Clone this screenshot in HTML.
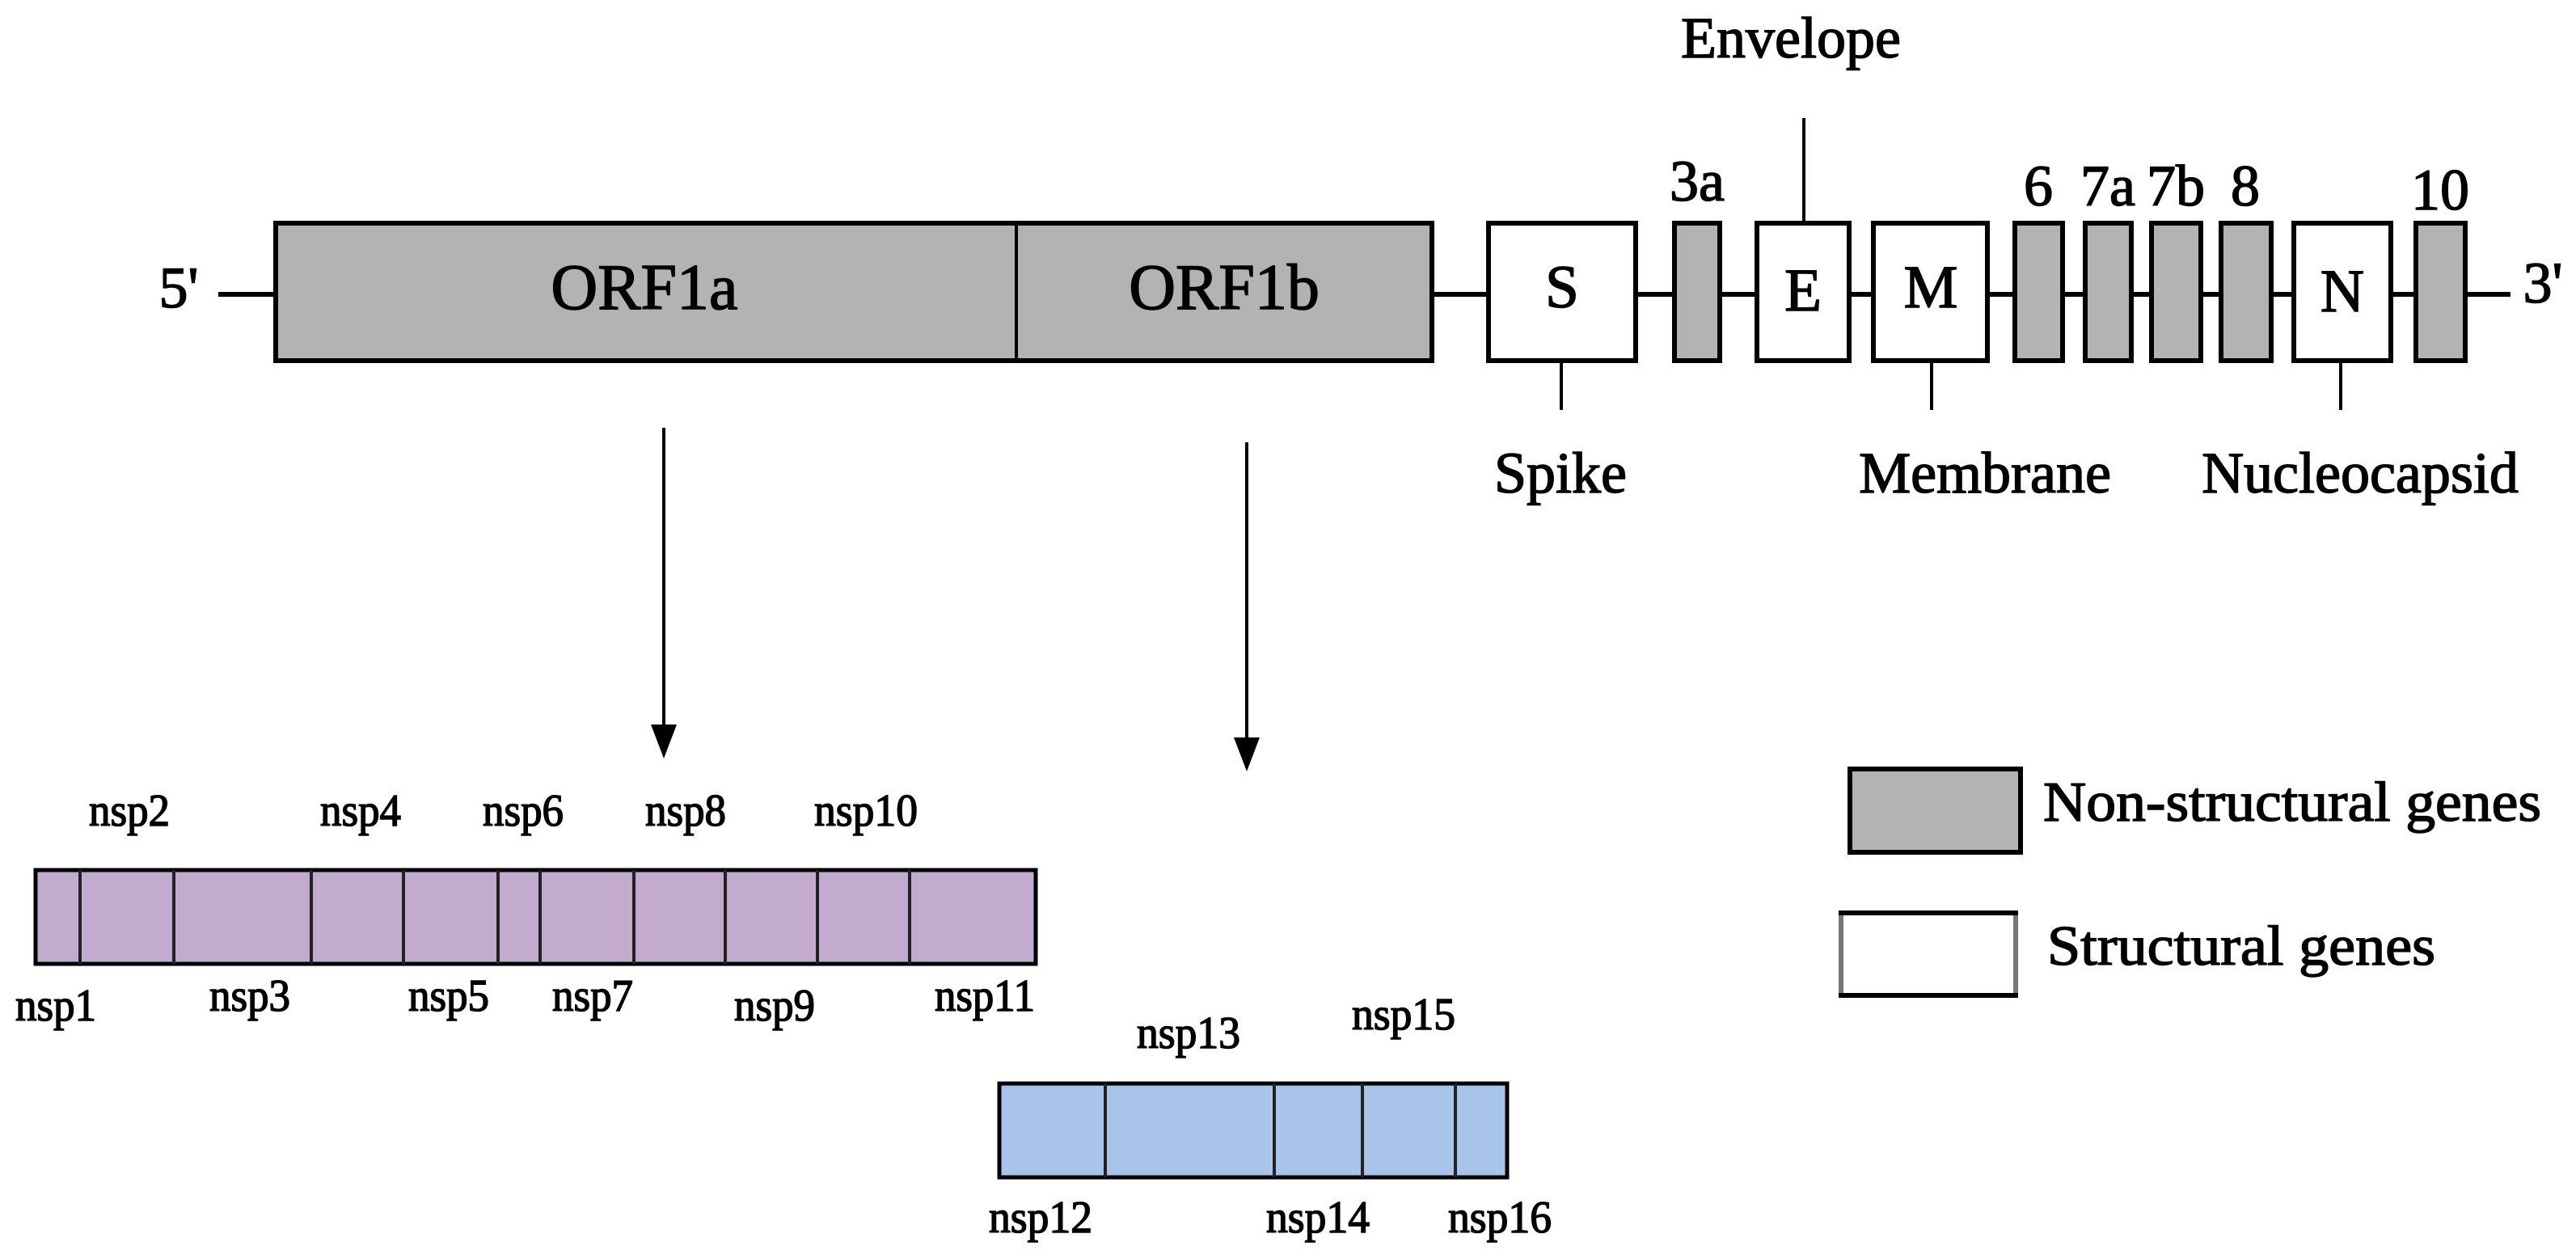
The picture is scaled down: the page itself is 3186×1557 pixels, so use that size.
<!DOCTYPE html>
<html><head><meta charset="utf-8"><style>
html,body{margin:0;padding:0;background:#fff;}
svg{display:block;}
text{font-family:"Liberation Serif",serif;fill:#000;stroke:#000;stroke-width:1.5;}
</style></head><body>
<svg width="3186" height="1557" viewBox="0 0 3186 1557" xmlns="http://www.w3.org/2000/svg">
<rect width="3186" height="1557" fill="#fff"/>
<line x1="270" y1="364" x2="3105" y2="364" stroke="#000" stroke-width="6"/>
<text x="221" y="380" font-size="72" text-anchor="middle">5'</text>
<text x="3145" y="374" font-size="72" text-anchor="middle">3'</text>
<rect x="341" y="276" width="1430" height="170" fill="#b3b3b3" stroke="#000" stroke-width="6"/>
<line x1="1257" y1="276" x2="1257" y2="446" stroke="#000" stroke-width="4"/>
<text x="797" y="382" font-size="80" text-anchor="middle">ORF1a</text>
<text x="1514" y="382" font-size="80" text-anchor="middle">ORF1b</text>
<g stroke="#000" stroke-width="6">
<rect x="1841" y="276" width="182" height="170" fill="#fff"/>
<rect x="2071" y="276" width="56" height="170" fill="#b3b3b3"/>
<rect x="2173" y="276" width="114" height="170" fill="#fff"/>
<rect x="2317" y="276" width="141" height="170" fill="#fff"/>
<rect x="2492" y="276" width="59" height="170" fill="#b3b3b3"/>
<rect x="2579" y="276" width="57" height="170" fill="#b3b3b3"/>
<rect x="2661" y="276" width="61" height="170" fill="#b3b3b3"/>
<rect x="2747" y="276" width="62" height="170" fill="#b3b3b3"/>
<rect x="2837" y="276" width="120" height="170" fill="#fff"/>
<rect x="2988" y="276" width="61" height="170" fill="#b3b3b3"/>
</g>
<text x="1932" y="380" font-size="75" text-anchor="middle">S</text>
<text x="2230" y="384" font-size="75" text-anchor="middle">E</text>
<text x="2388" y="380" font-size="75" text-anchor="middle">M</text>
<text x="2897" y="385" font-size="75" text-anchor="middle">N</text>
<text x="2099" y="248" font-size="72" text-anchor="middle">3a</text>
<text x="2521" y="254" font-size="72" text-anchor="middle">6</text>
<text x="2607" y="254" font-size="72" text-anchor="middle">7a</text>
<text x="2691" y="254" font-size="72" text-anchor="middle">7b</text>
<text x="2777" y="254" font-size="72" text-anchor="middle">8</text>
<text x="3018" y="259" font-size="72" text-anchor="middle">10</text>
<g stroke="#000" stroke-width="4">
<line x1="2231" y1="146" x2="2231" y2="276"/>
<line x1="1931" y1="446" x2="1931" y2="507"/>
<line x1="2389" y1="446" x2="2389" y2="507"/>
<line x1="2895" y1="446" x2="2895" y2="507"/>
</g>
<text x="2215" y="71" font-size="72" text-anchor="middle">Envelope</text>
<text x="1930" y="609" font-size="72" text-anchor="middle">Spike</text>
<text x="2455" y="609" font-size="72" text-anchor="middle">Membrane</text>
<text x="2919" y="609" font-size="72" text-anchor="middle">Nucleocapsid</text>
<g stroke="#000" stroke-width="4">
<line x1="821" y1="529" x2="821" y2="900"/>
<line x1="1542" y1="547" x2="1542" y2="916"/>
</g>
<polygon points="805,896 837,896 821,938" fill="#000"/>
<polygon points="1526,912 1558,912 1542,954" fill="#000"/>
<rect x="44" y="1076" width="1237" height="116" fill="#c3abcf" stroke="#000" stroke-width="5"/>
<g stroke="#222" stroke-width="4">
<line x1="99" y1="1076" x2="99" y2="1192"/><line x1="215" y1="1076" x2="215" y2="1192"/>
<line x1="385" y1="1076" x2="385" y2="1192"/><line x1="499" y1="1076" x2="499" y2="1192"/>
<line x1="616" y1="1076" x2="616" y2="1192"/><line x1="668" y1="1076" x2="668" y2="1192"/>
<line x1="784" y1="1076" x2="784" y2="1192"/><line x1="897" y1="1076" x2="897" y2="1192"/>
<line x1="1011" y1="1076" x2="1011" y2="1192"/><line x1="1125" y1="1076" x2="1125" y2="1192"/>
</g>
<g font-size="56" text-anchor="middle" lengthAdjust="spacingAndGlyphs">
<text x="160" y="1021" textLength="100" lengthAdjust="spacingAndGlyphs">nsp2</text><text x="446" y="1021" textLength="100" lengthAdjust="spacingAndGlyphs">nsp4</text>
<text x="647" y="1021" textLength="100" lengthAdjust="spacingAndGlyphs">nsp6</text><text x="848" y="1021" textLength="100" lengthAdjust="spacingAndGlyphs">nsp8</text>
<text x="1071" y="1021" textLength="128" lengthAdjust="spacingAndGlyphs">nsp10</text>
<text x="69" y="1262" textLength="100" lengthAdjust="spacingAndGlyphs">nsp1</text><text x="309" y="1250" textLength="100" lengthAdjust="spacingAndGlyphs">nsp3</text>
<text x="555" y="1250" textLength="100" lengthAdjust="spacingAndGlyphs">nsp5</text><text x="733" y="1250" textLength="100" lengthAdjust="spacingAndGlyphs">nsp7</text>
<text x="958" y="1262" textLength="100" lengthAdjust="spacingAndGlyphs">nsp9</text><text x="1218" y="1250" textLength="124" lengthAdjust="spacingAndGlyphs">nsp11</text>
<text x="1470" y="1296" textLength="128" lengthAdjust="spacingAndGlyphs">nsp13</text><text x="1736" y="1273" textLength="128" lengthAdjust="spacingAndGlyphs">nsp15</text>
<text x="1287" y="1524" textLength="128" lengthAdjust="spacingAndGlyphs">nsp12</text><text x="1630" y="1524" textLength="128" lengthAdjust="spacingAndGlyphs">nsp14</text>
<text x="1855" y="1524" textLength="128" lengthAdjust="spacingAndGlyphs">nsp16</text>
</g>
<rect x="1236" y="1340" width="628" height="116" fill="#a9c4ea" stroke="#000" stroke-width="5"/>
<g stroke="#222" stroke-width="4">
<line x1="1367" y1="1340" x2="1367" y2="1456"/><line x1="1576" y1="1340" x2="1576" y2="1456"/>
<line x1="1685" y1="1340" x2="1685" y2="1456"/><line x1="1800" y1="1340" x2="1800" y2="1456"/>
</g>
<rect x="2288" y="951" width="211" height="103" fill="#b3b3b3" stroke="#000" stroke-width="6"/>
<rect x="2277" y="1129" width="216" height="102" fill="#fff" stroke="#777" stroke-width="6"/>
<line x1="2274" y1="1129" x2="2496" y2="1129" stroke="#000" stroke-width="6"/>
<line x1="2274" y1="1231" x2="2496" y2="1231" stroke="#000" stroke-width="6"/>
<text x="2527" y="1015" font-size="70" textLength="616" lengthAdjust="spacingAndGlyphs">Non-structural genes</text>
<text x="2532" y="1193" font-size="70" textLength="480" lengthAdjust="spacingAndGlyphs">Structural genes</text>
</svg>
</body></html>
